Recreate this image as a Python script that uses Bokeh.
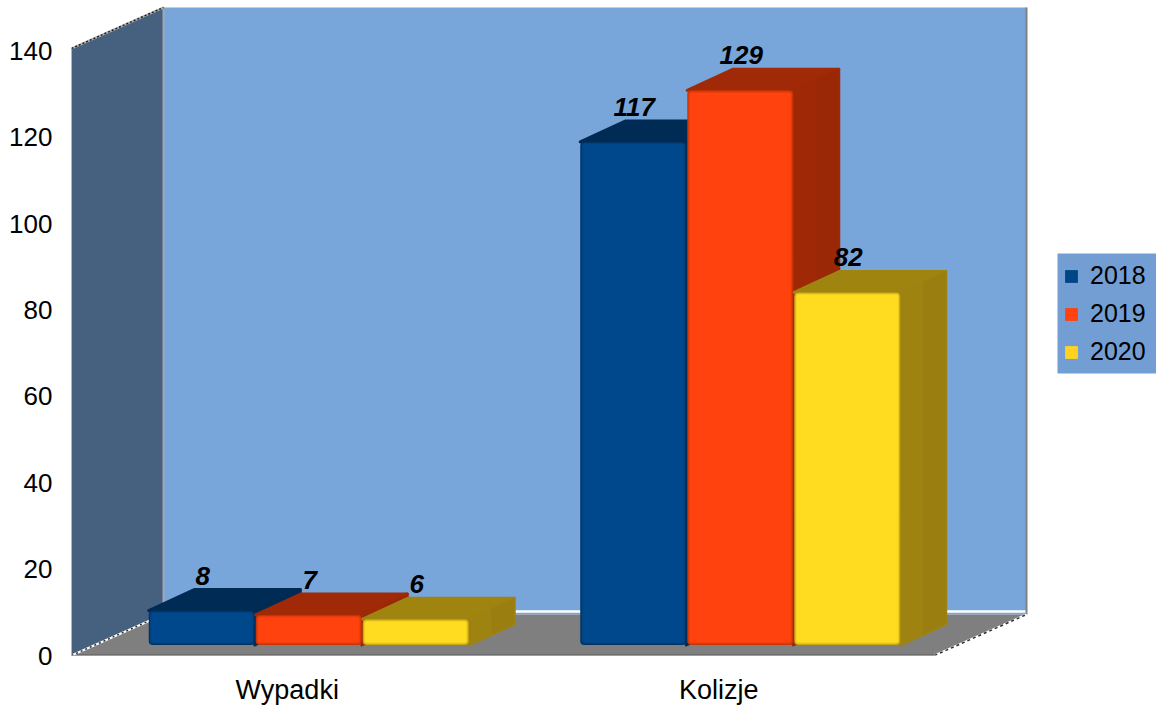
from bokeh.plotting import figure
from bokeh.models import Range1d, FixedTicker, Legend, LegendItem
from bokeh.core.properties import value
from bokeh.embed import file_html
from bokeh.resources import INLINE

categories = ["Wypadki", "Kolizje"]
series_names = ["2018", "2019", "2020"]
values_2018 = [8, 117]
values_2019 = [7, 129]
values_2020 = [6, 82]
y_ticks = [0, 20, 40, 60, 80, 100, 120, 140]
all_values = [values_2018, values_2019, values_2020]

front_colors = ["#00488c", "#ff420e", "#ffdc20"]
mid_colors = ["#00427f", "#e83c0c", "#f0cc1c"]
edge_colors = ["#003264", "#c8340a", "#c8a818"]
top_colors = ["#002b55", "#a02a08", "#a08410"]
side_colors = ["#002b55", "#9f2907", "#9f8311"]
side_dark = ["#002a52", "#9a2806", "#9a7f10"]
legend_colors = ["#004586", "#ff420e", "#ffd320"]

PX_X = 431.5      # pixels per category
PX_Y = 4.32       # pixels per unit on the axis
FRAME_L, FRAME_W, FRAME_H, BOTTOM = 71, 1085, 655, 55
WALL_SCALE = 1.0037
WALL_DX, WALL_DY = 92 / PX_X, 41 / PX_Y
BAR_DX, BAR_DY = 22 / PX_X, 10.5 / PX_Y
BAR_W = 107 / PX_X
DEPTH_X, DEPTH_Y = 45.5 / PX_X, 21 / PX_Y
BAR_SCALE = 0.9954
N_CAT = len(categories)
Y_MAX = y_ticks[-1]
WALL_TOP = Y_MAX * WALL_SCALE

p = figure(width=1156, height=710, frame_width=FRAME_W, frame_height=FRAME_H,
           output_backend="svg", toolbar_location=None,
           x_range=Range1d(0, FRAME_W / PX_X),
           y_range=Range1d(0, FRAME_H / PX_Y),
           min_border_left=FRAME_L, min_border_right=0, min_border_top=0,
           min_border_bottom=BOTTOM, outline_line_color=None,
           background_fill_color="white", border_fill_color="white")
p.grid.visible = False

p.yaxis.ticker = FixedTicker(ticks=y_ticks)
p.yaxis.axis_line_color = None
p.yaxis.major_tick_line_color = None
p.yaxis.minor_tick_line_color = None
p.yaxis.major_tick_out = 0
p.yaxis.major_label_text_font = "Liberation Sans"
p.yaxis.major_label_text_font_size = "26px"
p.yaxis.major_label_text_color = "black"
p.yaxis.major_label_standoff = 19

cat_pos = [i + 0.5 for i in range(N_CAT)]
p.xaxis.ticker = FixedTicker(ticks=cat_pos)
p.xaxis.major_label_overrides = {c: n for c, n in zip(cat_pos, categories)}
p.xaxis.axis_line_color = None
p.xaxis.major_tick_line_color = None
p.xaxis.minor_tick_line_color = None
p.xaxis.major_tick_out = 0
p.xaxis.major_label_text_font = "Liberation Sans"
p.xaxis.major_label_text_font_size = "27px"
p.xaxis.major_label_text_color = "black"
p.xaxis.major_label_standoff = 19

# back wall
p.quad(left=[WALL_DX], right=[N_CAT + WALL_DX], bottom=[WALL_DY], top=[WALL_TOP + WALL_DY],
       fill_color="#78a6da", line_color=None)
# left wall
p.patch([0, WALL_DX, WALL_DX, 0], [0, WALL_DY, WALL_TOP + WALL_DY, WALL_TOP],
        fill_color="#466080", line_color=None)
# floor
p.patch([0, N_CAT, N_CAT + WALL_DX, WALL_DX], [0, 0, WALL_DY, WALL_DY],
        fill_color="#7f7f7f", line_color=None)
# wall / floor edges
p.line([WALL_DX, N_CAT + WALL_DX], [WALL_DY + 0.7, WALL_DY + 0.7], line_color="white", line_width=2.5)
p.line([WALL_DX, WALL_DX], [WALL_DY, WALL_TOP + WALL_DY], line_color="#a2a8b0", line_width=2)
p.line([N_CAT + WALL_DX] * 2, [WALL_DY, WALL_TOP + WALL_DY], line_color="#808080", line_width=2)
p.line([0, 0], [0, WALL_TOP], line_color="#8c96a2", line_width=1)
p.line([0, N_CAT], [0, 0], line_color="#5c5c5c", line_width=2)
p.line([0, WALL_DX], [WALL_TOP, WALL_TOP + WALL_DY], line_color="#b0b0b0", line_width=2)
p.line([0, WALL_DX], [WALL_TOP, WALL_TOP + WALL_DY], line_color="#202020", line_width=1.5, line_dash="2 2")
p.line([0, WALL_DX], [0, WALL_DY], line_color="white", line_width=2)
p.line([0, WALL_DX], [0, WALL_DY], line_color="#303030", line_width=1.5, line_dash="2 3")
p.line([N_CAT, N_CAT + WALL_DX], [0, WALL_DY], line_color="white", line_width=2)
p.line([N_CAT, N_CAT + WALL_DX], [0, WALL_DY], line_color="#303030", line_width=1.5, line_dash="3 3")

# legend box sits in the chart's right margin
p.quad(left=[(1057 - FRAME_L) / PX_X], right=[FRAME_W / PX_X],
       bottom=[(FRAME_H - 373) / PX_Y], top=[(FRAME_H - 253) / PX_Y],
       fill_color="#729ed3", line_color=None)

legend_items = []
label_x, label_y, label_txt = [], [], []
ix, iy = 1 / PX_X, 1 / PX_Y
for s, vals in enumerate(all_values):
    lefts = [c + BAR_DX + (s - 1.5) * BAR_W for c in cat_pos]
    rights = [l + BAR_W - 1 / PX_X for l in lefts]
    base = BAR_DY
    tops = [base + v * BAR_SCALE for v in vals]
    # top face
    p.patches([[l, r, r + DEPTH_X, l + DEPTH_X] for l, r in zip(lefts, rights)],
              [[t, t, t + DEPTH_Y, t + DEPTH_Y] for t in tops],
              fill_color=top_colors[s], line_color=top_colors[s], line_width=3, line_join="round")
    # side face
    p.patches([[r, r + DEPTH_X, r + DEPTH_X, r] for r in rights],
              [[base, base + DEPTH_Y, t + DEPTH_Y, t] for t in tops],
              fill_color=side_colors[s], line_color=side_colors[s], line_width=3, line_join="round")
    p.patches([[r + DEPTH_X * 0.5, r + DEPTH_X, r + DEPTH_X, r + DEPTH_X * 0.5] for r in rights],
              [[base + DEPTH_Y * 0.5, base + DEPTH_Y, t + DEPTH_Y, t + DEPTH_Y * 0.5] for t in tops],
              fill_color=side_dark[s], line_color=None)
    # front face with soft edge
    p.quad(left=lefts, right=rights, bottom=[base] * N_CAT, top=tops,
           fill_color=edge_colors[s], line_color=None, border_radius=4)
    p.quad(left=[l + 1.2 * ix for l in lefts], right=[r - 1.2 * ix for r in rights],
           bottom=[base + 1.2 * iy] * N_CAT, top=[t - 1.2 * iy for t in tops],
           fill_color=mid_colors[s], line_color=None, border_radius=3)
    p.quad(left=[l + 2.4 * ix for l in lefts], right=[r - 2.4 * ix for r in rights],
           bottom=[base + 2.4 * iy] * N_CAT, top=[t - 2.4 * iy for t in tops],
           fill_color=front_colors[s], line_color=None, border_radius=2)
    # legend key (zero-size mark, only its colour is used by the legend)
    key = p.quad(left=[lefts[0]], right=[lefts[0]], bottom=[base], top=[base],
                 fill_color=legend_colors[s], line_color=None)
    legend_items.append(LegendItem(label=series_names[s], renderers=[key]))
    for l, r, t, v in zip(lefts, rights, tops, vals):
        label_x.append((l + r) / 2 + 1 / PX_X)
        label_y.append(t + DEPTH_Y + 14 / PX_Y)
        label_txt.append(str(v))

p.text(x=label_x, y=label_y, text=label_txt, text_font=value("Liberation Sans"),
       text_font_style="bold italic", text_font_size="26px", text_color="black",
       text_align="center", text_baseline="middle")

legend = Legend(items=legend_items, location=(992, 289), orientation="vertical",
                background_fill_alpha=0, border_line_color=None,
                margin=0, padding=0, spacing=9, glyph_width=16, glyph_height=16,
                label_standoff=11, label_height=28, label_text_font="Liberation Sans",
                label_text_font_size="25px", label_text_color="black")
p.add_layout(legend)

open("out.html", "w").write(file_html(p, INLINE))
